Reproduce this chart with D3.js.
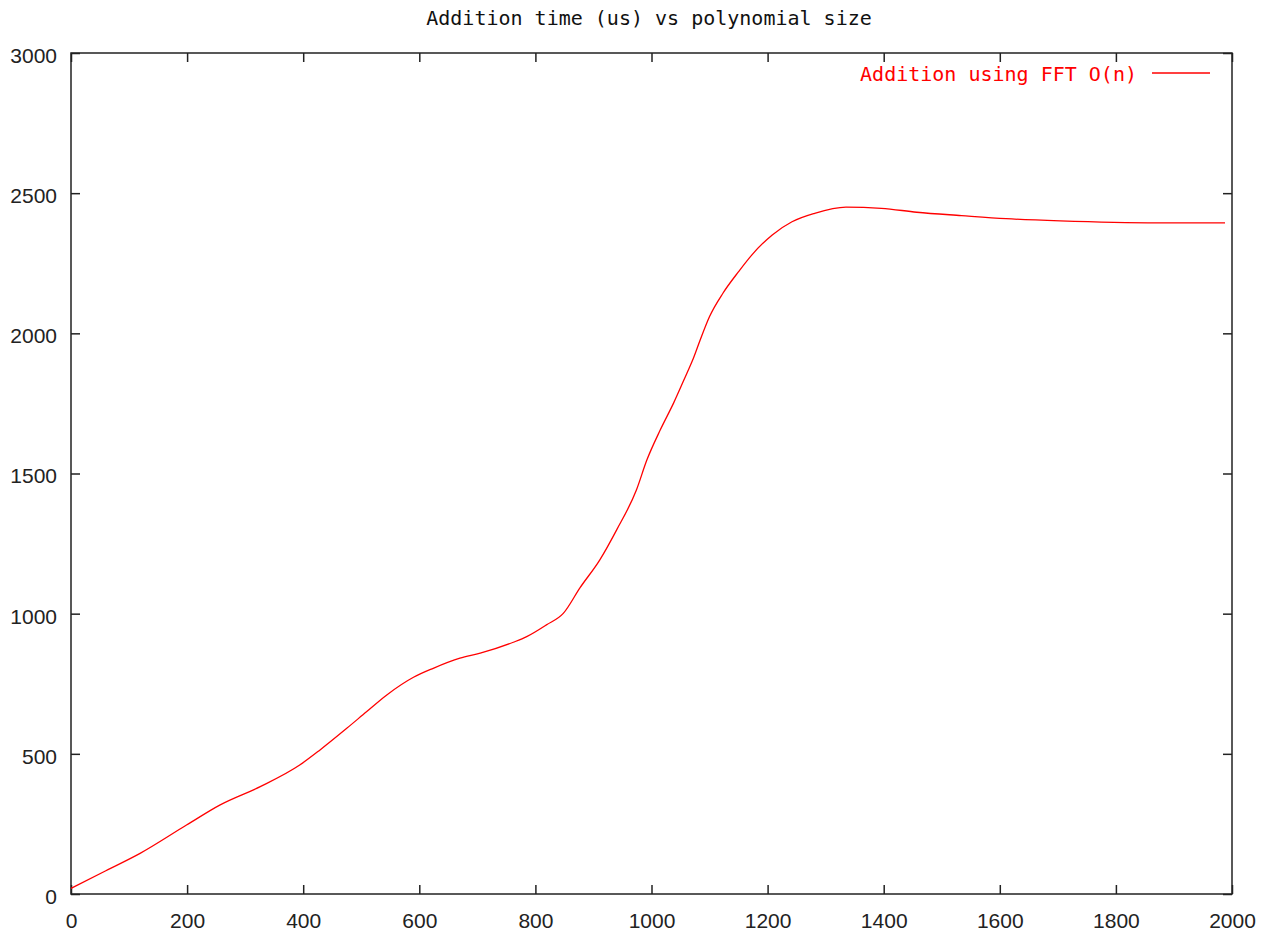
<!doctype html>
<html>
<head>
	<meta charset="utf-8">
	<title>Addition time</title>
	<script src="https://cdnjs.cloudflare.com/ajax/libs/d3/7.8.5/d3.min.js"></script>
	<style>
		body { margin: 0; background: white; }
		.tick text { font-family: "Liberation Sans", Arial, sans-serif; font-size: 21px; fill: #222; }
		.mono { font-family: "DejaVu Sans Mono", monospace; font-size: 20px; }
	</style>
</head>
<body>
	<script>
		// polynomial size vs addition time (us)
		var sizes = [0, 60, 119, 199, 257, 326, 394, 429, 475, 509, 544, 590, 624, 670, 705, 762,
			785, 819, 848, 877, 911, 940, 974, 992, 1015, 1038, 1061, 1072, 1084, 1100, 1123, 1150,
			1173, 1208, 1242, 1281, 1335, 1396, 1457, 1534, 1611, 1704, 1873, 1988];
		var times = [20, 83, 145, 246, 318, 383, 460, 514, 591, 650, 710, 773, 805, 841, 859, 898,
			918, 960, 1001, 1093, 1192, 1299, 1441, 1548, 1655, 1751, 1858, 1910, 1977, 2060, 2143, 2220,
			2280, 2351, 2398, 2428, 2450, 2446, 2432, 2420, 2409, 2401, 2394, 2394];
		var xTicks = [0, 200, 400, 600, 800, 1000, 1200, 1400, 1600, 1800, 2000];
		var yTicks = [0, 500, 1000, 1500, 2000, 2500, 3000];
		var title = 'Addition time (us) vs polynomial size';
		var seriesName = 'Addition using FFT O(n)';

		var width = 1267, height = 932;
		var margin = { left: 71, right: 35, top: 53, bottom: 38 };

		var svg = d3.select('body').append('svg')
			.attr('width', width)
			.attr('height', height);

		var x = d3.scaleLinear().domain([0, 2000]).range([margin.left, width - margin.right]);
		var y = d3.scaleLinear().domain([0, 3000]).range([height - margin.bottom, margin.top]);

		// axes with inward ticks
		var bottom = svg.append('g')
			.attr('transform', 'translate(0,' + y(0) + ')')
			.call(d3.axisBottom(x).tickValues(xTicks).tickSize(-9).tickPadding(19).tickFormat(d3.format('d')));
		var left = svg.append('g')
			.attr('transform', 'translate(' + x(0) + ',0)')
			.call(d3.axisLeft(y).tickValues(yTicks).tickSize(-9).tickPadding(14).tickFormat(d3.format('d')));
		left.selectAll('.tick text').attr('dy', '0.45em');
		var top = svg.append('g')
			.attr('transform', 'translate(0,' + y(3000) + ')')
			.call(d3.axisTop(x).tickValues(xTicks).tickSize(-9).tickFormat(''));
		var right = svg.append('g')
			.attr('transform', 'translate(' + x(2000) + ',0)')
			.call(d3.axisRight(y).tickValues(yTicks).tickSize(-9).tickFormat(''));

		svg.selectAll('.domain').remove();
		svg.selectAll('.tick line').attr('stroke', '#222').attr('stroke-width', 1.5);

		// frame
		svg.append('rect')
			.attr('x', x(0))
			.attr('y', y(3000))
			.attr('width', x(2000) - x(0))
			.attr('height', y(0) - y(3000))
			.attr('fill', 'none')
			.attr('stroke', '#222')
			.attr('stroke-width', 1.5);

		var line = d3.line()
			.curve(d3.curveMonotoneX)
			.x(function (d, i) { return x(sizes[i]); })
			.y(function (d) { return y(d); });

		svg.append('path')
			.datum(times)
			.attr('fill', 'none')
			.attr('stroke', '#ff0000')
			.attr('stroke-width', 1.3)
			.attr('d', line);

		svg.append('text')
			.attr('class', 'mono')
			.attr('x', 649)
			.attr('y', 25)
			.attr('text-anchor', 'middle')
			.attr('fill', '#111')
			.text(title);

		// legend
		svg.append('text')
			.attr('class', 'mono')
			.attr('x', 1137)
			.attr('y', 81)
			.attr('text-anchor', 'end')
			.attr('fill', '#ff0000')
			.text(seriesName);
		svg.append('line')
			.attr('x1', 1152).attr('x2', 1210)
			.attr('y1', 73).attr('y2', 73)
			.attr('stroke', '#ff0000')
			.attr('stroke-width', 1.3);
	</script>
</body>
</html>
